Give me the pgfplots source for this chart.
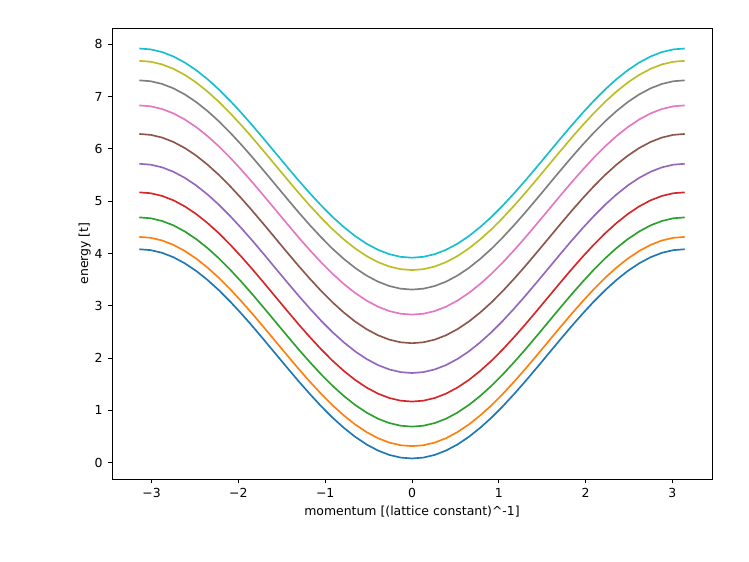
\documentclass[border=0pt]{standalone}
\usepackage{pgfplots}
\usepackage{pgfplotstable}
\usepackage{fontspec}
\setmainfont{DejaVu Sans}
\pgfplotsset{compat=1.18}
\usetikzlibrary{calc}

\definecolor{c0}{HTML}{1F77B4}
\definecolor{c1}{HTML}{FF7F0E}
\definecolor{c2}{HTML}{2CA02C}
\definecolor{c3}{HTML}{D62728}
\definecolor{c4}{HTML}{9467BD}
\definecolor{c5}{HTML}{8C564B}
\definecolor{c6}{HTML}{E377C2}
\definecolor{c7}{HTML}{7F7F7F}
\definecolor{c8}{HTML}{BCBD22}
\definecolor{c9}{HTML}{17BECF}

% bands, one column per band
\pgfplotstableread{
k       a     b     c     d     e     f     g     h     i     j
-3.1416 4.081 4.317 4.690 5.169 5.715 6.285 6.831 7.310 7.683 7.919
-3.0107 4.064 4.300 4.673 5.152 5.698 6.268 6.814 7.293 7.666 7.902
-2.8798 4.013 4.249 4.622 5.101 5.647 6.217 6.763 7.242 7.615 7.851
-2.7489 3.929 4.165 4.538 5.017 5.563 6.133 6.679 7.158 7.531 7.767
-2.6180 3.813 4.049 4.422 4.901 5.447 6.017 6.563 7.042 7.415 7.651
-2.4871 3.668 3.904 4.277 4.756 5.302 5.872 6.418 6.897 7.270 7.506
-2.3562 3.495 3.731 4.104 4.583 5.129 5.699 6.245 6.724 7.097 7.333
-2.2253 3.299 3.535 3.908 4.387 4.933 5.503 6.049 6.528 6.901 7.137
-2.0944 3.081 3.317 3.690 4.169 4.715 5.285 5.831 6.310 6.683 6.919
-1.9635 2.846 3.082 3.455 3.934 4.480 5.050 5.596 6.075 6.448 6.684
-1.8326 2.599 2.835 3.208 3.687 4.233 4.803 5.349 5.828 6.201 6.437
-1.7017 2.342 2.578 2.951 3.430 3.976 4.546 5.092 5.571 5.944 6.180
-1.5708 2.081 2.317 2.690 3.169 3.715 4.285 4.831 5.310 5.683 5.919
-1.4399 1.820 2.056 2.429 2.908 3.454 4.024 4.570 5.049 5.422 5.658
-1.3090 1.563 1.799 2.172 2.651 3.197 3.767 4.313 4.792 5.165 5.401
-1.1781 1.316 1.552 1.925 2.404 2.950 3.520 4.066 4.545 4.918 5.154
-1.0472 1.081 1.317 1.690 2.169 2.715 3.285 3.831 4.310 4.683 4.919
-0.9163 0.863 1.099 1.472 1.951 2.497 3.067 3.613 4.092 4.465 4.701
-0.7854 0.667 0.903 1.276 1.755 2.301 2.871 3.417 3.896 4.269 4.505
-0.6545 0.494 0.730 1.103 1.582 2.128 2.698 3.244 3.723 4.096 4.332
-0.5236 0.349 0.585 0.958 1.437 1.983 2.553 3.099 3.578 3.951 4.187
-0.3927 0.233 0.469 0.842 1.321 1.867 2.437 2.983 3.462 3.835 4.071
-0.2618 0.149 0.385 0.758 1.237 1.783 2.353 2.899 3.378 3.751 3.987
-0.1309 0.098 0.334 0.707 1.186 1.732 2.302 2.848 3.327 3.700 3.936
 0.0000 0.081 0.317 0.690 1.169 1.715 2.285 2.831 3.310 3.683 3.919
 0.1309 0.098 0.334 0.707 1.186 1.732 2.302 2.848 3.327 3.700 3.936
 0.2618 0.149 0.385 0.758 1.237 1.783 2.353 2.899 3.378 3.751 3.987
 0.3927 0.233 0.469 0.842 1.321 1.867 2.437 2.983 3.462 3.835 4.071
 0.5236 0.349 0.585 0.958 1.437 1.983 2.553 3.099 3.578 3.951 4.187
 0.6545 0.494 0.730 1.103 1.582 2.128 2.698 3.244 3.723 4.096 4.332
 0.7854 0.667 0.903 1.276 1.755 2.301 2.871 3.417 3.896 4.269 4.505
 0.9163 0.863 1.099 1.472 1.951 2.497 3.067 3.613 4.092 4.465 4.701
 1.0472 1.081 1.317 1.690 2.169 2.715 3.285 3.831 4.310 4.683 4.919
 1.1781 1.316 1.552 1.925 2.404 2.950 3.520 4.066 4.545 4.918 5.154
 1.3090 1.563 1.799 2.172 2.651 3.197 3.767 4.313 4.792 5.165 5.401
 1.4399 1.820 2.056 2.429 2.908 3.454 4.024 4.570 5.049 5.422 5.658
 1.5708 2.081 2.317 2.690 3.169 3.715 4.285 4.831 5.310 5.683 5.919
 1.7017 2.342 2.578 2.951 3.430 3.976 4.546 5.092 5.571 5.944 6.180
 1.8326 2.599 2.835 3.208 3.687 4.233 4.803 5.349 5.828 6.201 6.437
 1.9635 2.846 3.082 3.455 3.934 4.480 5.050 5.596 6.075 6.448 6.684
 2.0944 3.081 3.317 3.690 4.169 4.715 5.285 5.831 6.310 6.683 6.919
 2.2253 3.299 3.535 3.908 4.387 4.933 5.503 6.049 6.528 6.901 7.137
 2.3562 3.495 3.731 4.104 4.583 5.129 5.699 6.245 6.724 7.097 7.333
 2.4871 3.668 3.904 4.277 4.756 5.302 5.872 6.418 6.897 7.270 7.506
 2.6180 3.813 4.049 4.422 4.901 5.447 6.017 6.563 7.042 7.415 7.651
 2.7489 3.929 4.165 4.538 5.017 5.563 6.133 6.679 7.158 7.531 7.767
 2.8798 4.013 4.249 4.622 5.101 5.647 6.217 6.763 7.242 7.615 7.851
 3.0107 4.064 4.300 4.673 5.152 5.698 6.268 6.814 7.293 7.666 7.902
 3.1416 4.081 4.317 4.690 5.169 5.715 6.285 6.831 7.310 7.683 7.919
}\bands

\begin{document}
\begin{tikzpicture}
\begin{axis}[
  scale only axis, width=432bp, height=324.7bp,
  xmin=-3.456, xmax=3.456, ymin=-0.311, ymax=8.311,
  xtick={-3,-2,-1,0,1,2,3},
  xticklabels={−3,−2,−1,0,1,2,3},
  ytick={0,1,2,3,4,5,6,7,8},
  yticklabels={0,1,2,3,4,5,6,7,8},
  tick align=outside, tick pos=left,
  major tick length=3.2bp,
  every tick/.style={black, line width=0.65bp},
  axis line style={line width=0.65bp},
  tick label style={font=\fontsize{9}{11}\selectfont},
  label style={font=\fontsize{9}{11}\selectfont},
  xlabel={momentum [(lattice constant)\textasciicircum-1]},
  ylabel={energy [t]},
  xlabel style={yshift=1bp},
  ylabel style={yshift=-4bp},
  every axis plot/.append style={line width=1.2bp, no marks, line join=round},
]
\addplot[c0] table[x=k, y=a] {\bands};
\addplot[c1] table[x=k, y=b] {\bands};
\addplot[c2] table[x=k, y=c] {\bands};
\addplot[c3] table[x=k, y=d] {\bands};
\addplot[c4] table[x=k, y=e] {\bands};
\addplot[c5] table[x=k, y=f] {\bands};
\addplot[c6] table[x=k, y=g] {\bands};
\addplot[c7] table[x=k, y=h] {\bands};
\addplot[c8] table[x=k, y=i] {\bands};
\addplot[c9] table[x=k, y=j] {\bands};
\end{axis}
\path[use as bounding box] ([xshift=-80.64bp,yshift=-59.76bp]current axis.south west) rectangle ([xshift=26.64bp,yshift=20.16bp]current axis.north east);
\end{tikzpicture}
\end{document}
